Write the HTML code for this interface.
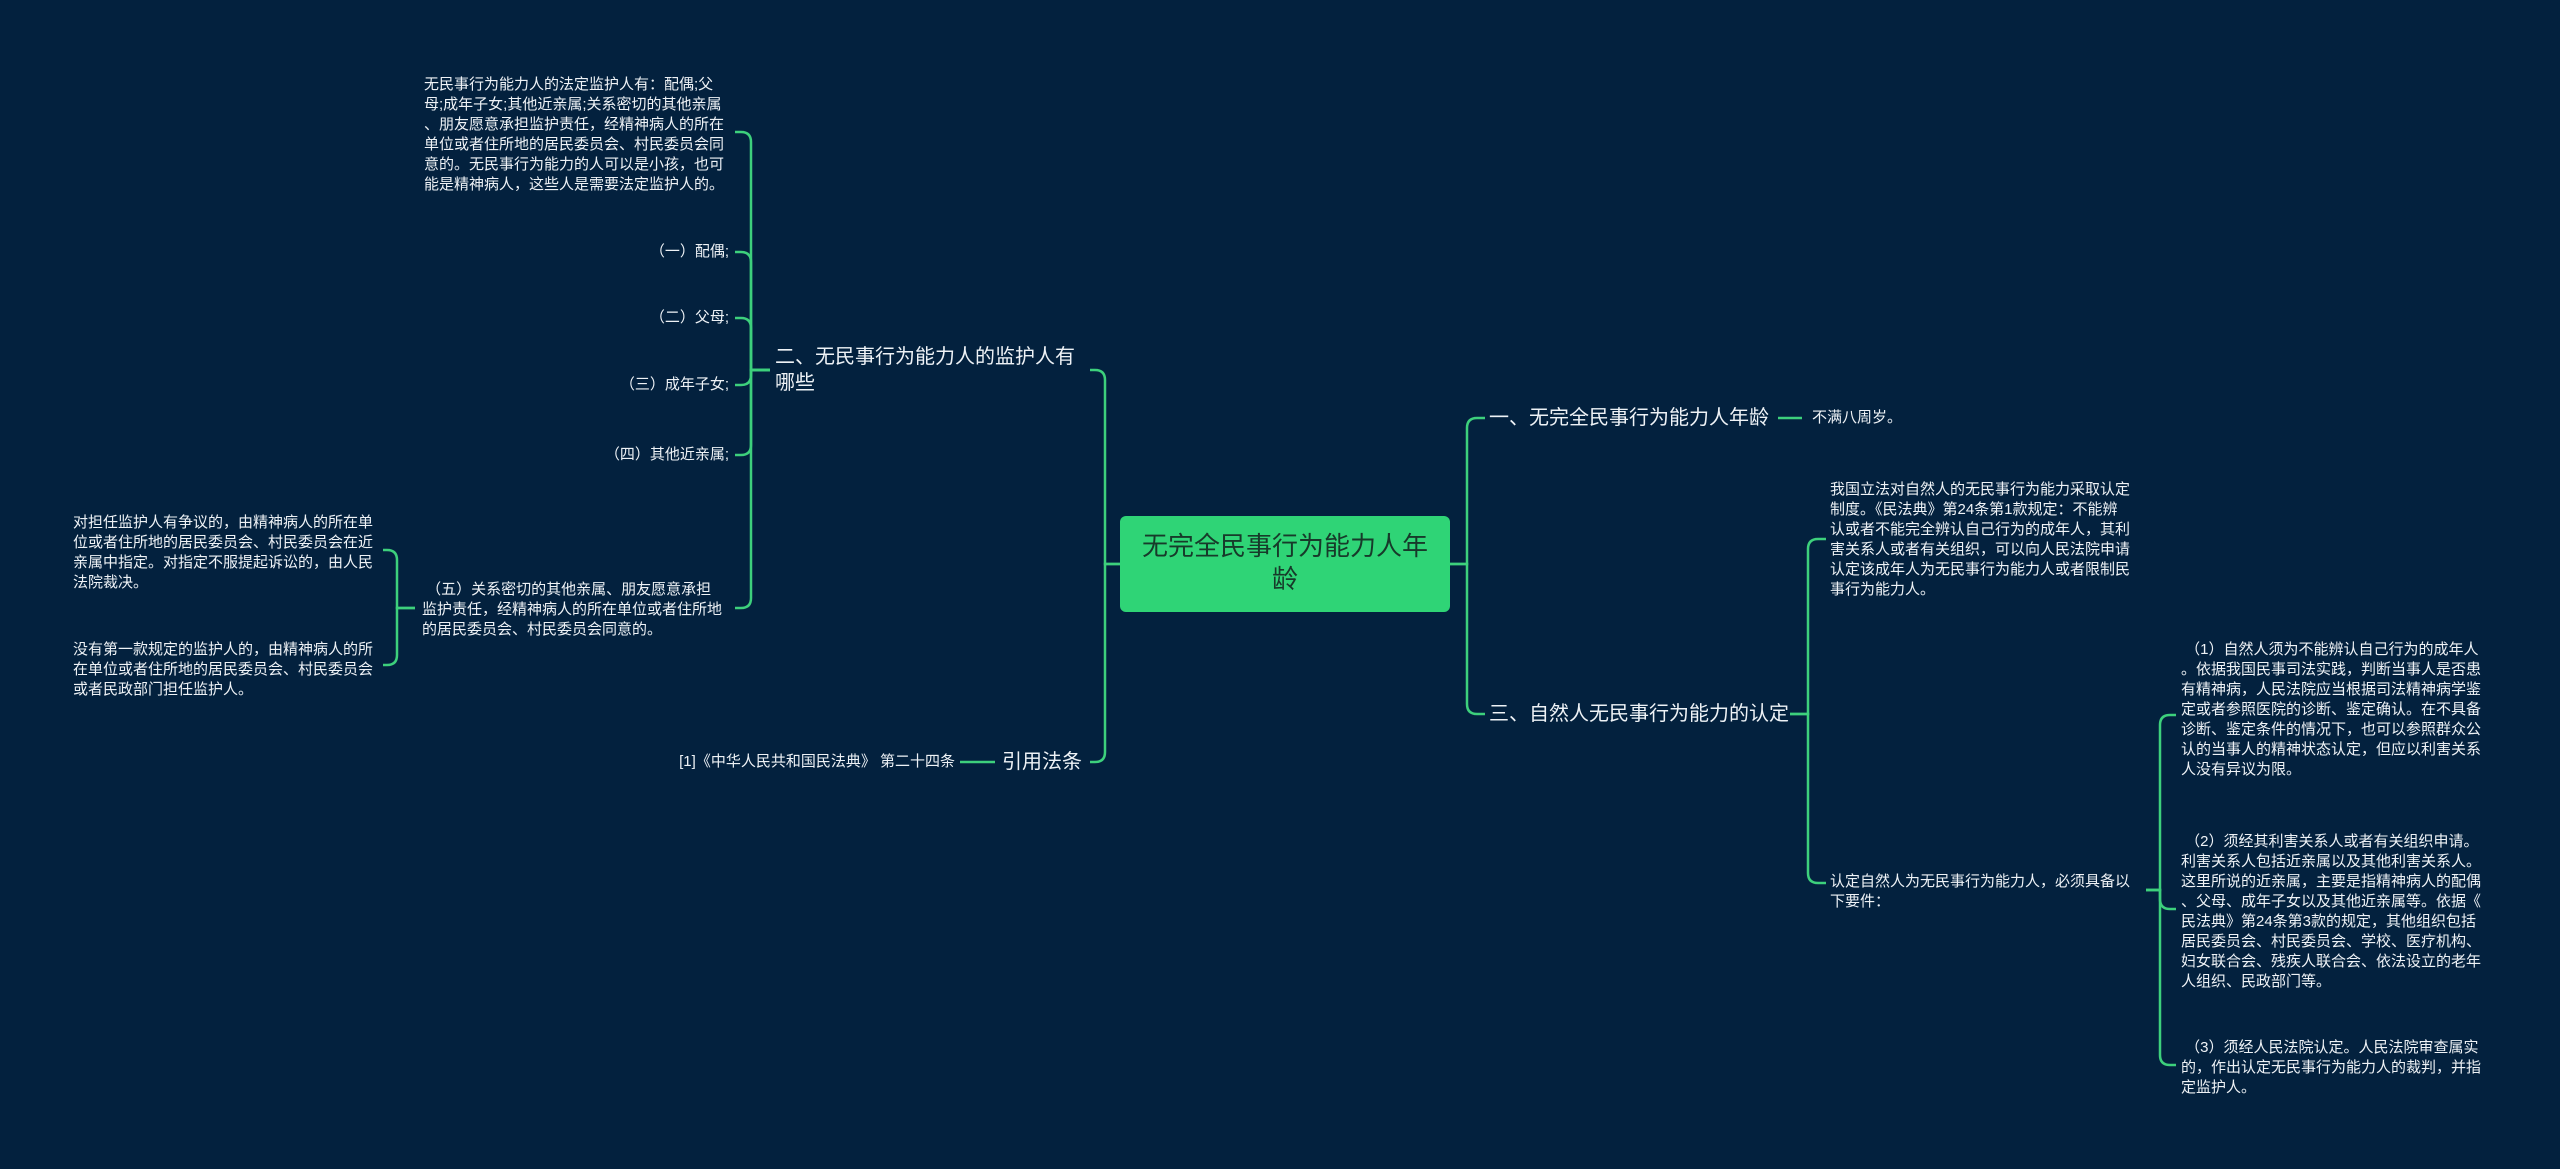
<!DOCTYPE html>
<html><head><meta charset="utf-8"><style>
html,body{margin:0;padding:0;}
body{width:2560px;height:1169px;background:#03213e;position:relative;overflow:hidden;font-family:"Liberation Sans","Noto Sans CJK SC",sans-serif;color:#eef2f6;}
.t{position:absolute;white-space:nowrap;font-size:15px;line-height:20px;}
.b{font-size:20px;line-height:26px;}
.r{text-align:right;}
#root{position:absolute;left:1120px;top:516px;width:330px;height:96px;background:#2fd476;border-radius:6px;color:#173a2a;font-size:26px;line-height:33px;text-align:center;box-sizing:border-box;padding-top:14px;}
svg{position:absolute;left:0;top:0;}
</style></head><body>
<svg width="2560" height="1169" fill="none" stroke="#3dd07c" stroke-width="2.5">
<path d="M1450 564 H1467 V428 Q1467 418 1477 418 H1485"/>
<path d="M1450 564 H1467 V704 Q1467 714 1477 714 H1485"/>
<path d="M1778 418 H1802"/>
<path d="M1790 714 H1808 V549 Q1808 539 1818 539 H1826"/>
<path d="M1790 714 H1808 V873 Q1808 883 1818 883 H1826"/>
<path d="M2146 890 H2160 V725 Q2160 715 2170 715 H2176"/>
<path d="M2146 890 H2160 V899 Q2160 909 2170 909 H2176"/>
<path d="M2146 890 H2160 V1055 Q2160 1065 2170 1065 H2176"/>
<path d="M1120 564 H1105 V380 Q1105 370 1095 370 H1090"/>
<path d="M1120 564 H1105 V752 Q1105 762 1095 762 H1090"/>
<path d="M960 762 H995"/>
<path d="M770 370 H751 V142 Q751 132 741 132 H735"/>
<path d="M770 370 H751 V262 Q751 252 741 252 H735"/>
<path d="M770 370 H751 V328 Q751 318 741 318 H735"/>
<path d="M770 370 H751 V375 Q751 385 741 385 H735"/>
<path d="M770 370 H751 V445 Q751 455 741 455 H735"/>
<path d="M770 370 H751 V598 Q751 608 741 608 H735"/>
<path d="M415 608 H397 V560 Q397 550 387 550 H383"/>
<path d="M415 608 H397 V655 Q397 665 387 665 H383"/>
</svg>
<div id="root">无完全民事行为能力人年<br>龄</div>
<div class="t b" style="left:1489px;top:405px;">一、无完全民事行为能力人年龄</div>
<div class="t b" style="left:1489px;top:701px;">三、自然人无民事行为能力的认定</div>
<div class="t" style="left:1812px;top:408px;">不满八周岁。</div>
<div class="t" style="left:1830px;top:480px;">我国立法对自然人的无民事行为能力采取认定<br>制度。《民法典》第24条第1款规定：不能辨<br>认或者不能完全辨认自己行为的成年人，其利<br>害关系人或者有关组织，可以向人民法院申请<br>认定该成年人为无民事行为能力人或者限制民<br>事行为能力人。</div>
<div class="t" style="left:1830px;top:872px;">认定自然人为无民事行为能力人，必须具备以<br>下要件：</div>
<div class="t" style="left:2181px;top:640px;">&nbsp;（1）自然人须为不能辨认自己行为的成年人<br>。依据我国民事司法实践，判断当事人是否患<br>有精神病，人民法院应当根据司法精神病学鉴<br>定或者参照医院的诊断、鉴定确认。在不具备<br>诊断、鉴定条件的情况下，也可以参照群众公<br>认的当事人的精神状态认定，但应以利害关系<br>人没有异议为限。</div>
<div class="t" style="left:2181px;top:832px;">&nbsp;（2）须经其利害关系人或者有关组织申请。<br>利害关系人包括近亲属以及其他利害关系人。<br>这里所说的近亲属，主要是指精神病人的配偶<br>、父母、成年子女以及其他近亲属等。依据《<br>民法典》第24条第3款的规定，其他组织包括<br>居民委员会、村民委员会、学校、医疗机构、<br>妇女联合会、残疾人联合会、依法设立的老年<br>人组织、民政部门等。</div>
<div class="t" style="left:2181px;top:1038px;">&nbsp;（3）须经人民法院认定。人民法院审查属实<br>的，作出认定无民事行为能力人的裁判，并指<br>定监护人。</div>
<div class="t b" style="left:775px;top:344px;">二、无民事行为能力人的监护人有<br>哪些</div>
<div class="t b" style="left:1002px;top:749px;">引用法条</div>
<div class="t r" style="right:1605px;top:752px;">[1]《中华人民共和国民法典》 第二十四条</div>
<div class="t" style="left:424px;top:75px;">无民事行为能力人的法定监护人有：配偶;父<br>母;成年子女;其他近亲属;关系密切的其他亲属<br>、朋友愿意承担监护责任，经精神病人的所在<br>单位或者住所地的居民委员会、村民委员会同<br>意的。无民事行为能力的人可以是小孩，也可<br>能是精神病人，这些人是需要法定监护人的。</div>
<div class="t r" style="right:1831px;top:242px;">（一）配偶;</div>
<div class="t r" style="right:1831px;top:308px;">（二）父母;</div>
<div class="t r" style="right:1831px;top:375px;">（三）成年子女;</div>
<div class="t r" style="right:1831px;top:445px;">（四）其他近亲属;</div>
<div class="t" style="left:422px;top:580px;">&nbsp;（五）关系密切的其他亲属、朋友愿意承担<br>监护责任，经精神病人的所在单位或者住所地<br>的居民委员会、村民委员会同意的。</div>
<div class="t" style="left:73px;top:513px;">对担任监护人有争议的，由精神病人的所在单<br>位或者住所地的居民委员会、村民委员会在近<br>亲属中指定。对指定不服提起诉讼的，由人民<br>法院裁决。</div>
<div class="t" style="left:73px;top:640px;">没有第一款规定的监护人的，由精神病人的所<br>在单位或者住所地的居民委员会、村民委员会<br>或者民政部门担任监护人。</div>
</body></html>
